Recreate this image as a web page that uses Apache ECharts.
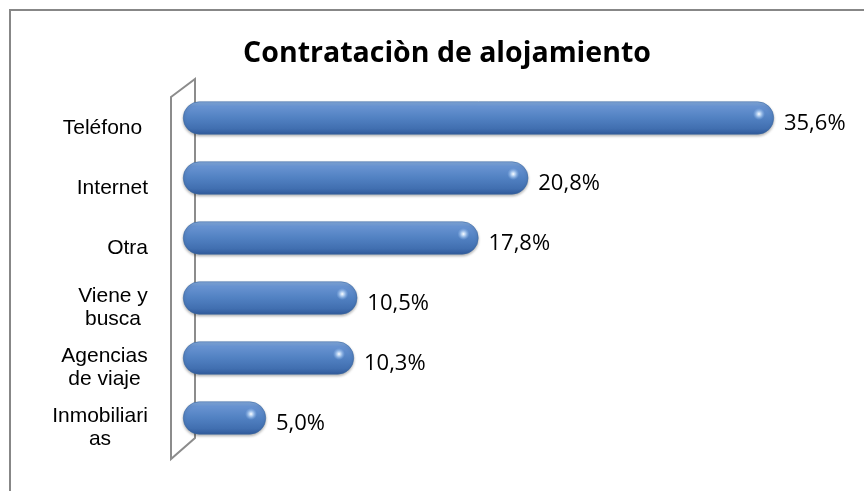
<!DOCTYPE html>
<html>
<head>
<meta charset="utf-8">
<script src="https://cdn.jsdelivr.net/npm/echarts@6/dist/echarts.min.js"></script>
<style>
  html, body { margin: 0; padding: 0; background: #fff; }
  #main { width: 864px; height: 491px; }
</style>
</head>
<body>
<div id="main"></div>
<script>
// datos del gráfico
var titulo = 'Contrataciòn de alojamiento';
var categorias = ['Teléfono ', 'Internet', 'Otra', 'Viene y\nbusca', 'Agencias\nde viaje', 'Inmobiliari\nas'];
var valores = [35.6, 20.8, 17.8, 10.5, 10.3, 5.0];

var labelFont = '21px "Liberation Sans", Arial, sans-serif';

// ancho del texto para centrar las etiquetas de dos líneas
var ctx = document.createElement('canvas').getContext('2d');
ctx.font = labelFont;
function anchoTexto(t) { return Math.ceil(ctx.measureText(t).width); }

var rich = {};
categorias.forEach(function (c, i) {
  if (c.indexOf('\n') >= 0) {
    var w = Math.max.apply(null, c.split('\n').map(anchoTexto));
    rich['c' + i] = {
      width: w, align: 'center', fontSize: 21, lineHeight: 23,
      fontFamily: '"Liberation Sans", Arial, sans-serif', color: '#000'
    };
  }
});

function formatoEtiqueta(value, index) {
  if (value.indexOf('\n') < 0) return value;
  var i = categorias.indexOf(value);
  return value.split('\n').map(function (l) { return '{c' + i + '|' + l + '}'; }).join('\n');
}

var chart = echarts.init(document.getElementById('main'), null, { renderer: 'canvas' });

var colorBarra = new echarts.graphic.LinearGradient(0, 0, 0, 1, [
  { offset: 0, color: '#86addf' },
  { offset: 0.15, color: '#6893d1' },
  { offset: 0.5, color: '#5181c2' },
  { offset: 0.82, color: '#416fb0' },
  { offset: 1, color: '#30599a' }
]);

var option = {
  animation: false,
  title: {
    text: titulo,
    left: 442,
    top: 34,
    textAlign: 'center',
    textStyle: {
      fontFamily: '"Open Sans", sans-serif',
      fontWeight: 'bold',
      fontSize: 28.5,
      color: '#000'
    }
  },
  grid: { left: 183, top: 88, height: 360, width: 664 },
  xAxis: {
    type: 'value',
    min: 0,
    max: 40,
    show: false
  },
  yAxis: {
    type: 'category',
    inverse: true,
    data: categorias,
    axisLine: { show: false },
    axisTick: { show: false },
    splitLine: { show: false },
    axisLabel: {
      interval: 0,
      hideOverlap: false,
      margin: 35,
      align: 'right',
      padding: [20, 0, 0, 0],
      fontSize: 21,
      lineHeight: 23,
      fontFamily: '"Liberation Sans", Arial, sans-serif',
      color: '#000',
      formatter: formatoEtiqueta,
      rich: rich
    }
  },
  graphic: [
    {
      // marco exterior
      type: 'polyline',
      z: 0,
      shape: { points: [[10, 491], [10, 10], [864, 10]] },
      style: { stroke: '#878787', lineWidth: 2, fill: null }
    },
    {
      // pared lateral (3D)
      type: 'polygon',
      z: 0,
      shape: { points: [[171, 97], [195, 79], [195, 438], [171, 459]] },
      style: { stroke: '#8c8c8c', lineWidth: 2, fill: null }
    }
  ],
  series: [
    {
      type: 'bar',
      data: valores,
      barWidth: 33,
      z: 3,
      itemStyle: {
        color: colorBarra,
        borderRadius: 16,
        borderColor: '#3d69a3',
        borderWidth: 0.6,
        shadowColor: 'rgba(0,0,0,0.3)',
        shadowBlur: 3,
        shadowOffsetY: 1.5
      },
      label: {
        show: true,
        position: 'right',
        distance: 10,
        offset: [0, 6],
        fontFamily: '"Open Sans", sans-serif',
        fontSize: 22,
        color: '#000',
        formatter: function (p) { return p.value.toFixed(1).replace('.', ',') + '%'; }
      }
    },
    {
      // brillo en el extremo de cada barra
      type: 'custom',
      z: 4,
      silent: true,
      data: valores.map(function (v, i) { return [v, i]; }),
      renderItem: function (params, api) {
        var p = api.coord([api.value(0), api.value(1)]);
        return {
          type: 'ellipse',
          shape: { cx: p[0] - 15, cy: p[1] - 4, rx: 7, ry: 6 },
          style: {
            fill: new echarts.graphic.RadialGradient(0.5, 0.5, 0.5, [
              { offset: 0, color: 'rgba(255,255,255,1)' },
              { offset: 0.35, color: 'rgba(210,232,255,0.75)' },
              { offset: 1, color: 'rgba(150,190,240,0)' }
            ])
          }
        };
      }
    }
  ]
};

chart.setOption(option);
</script>
</body>
</html>
